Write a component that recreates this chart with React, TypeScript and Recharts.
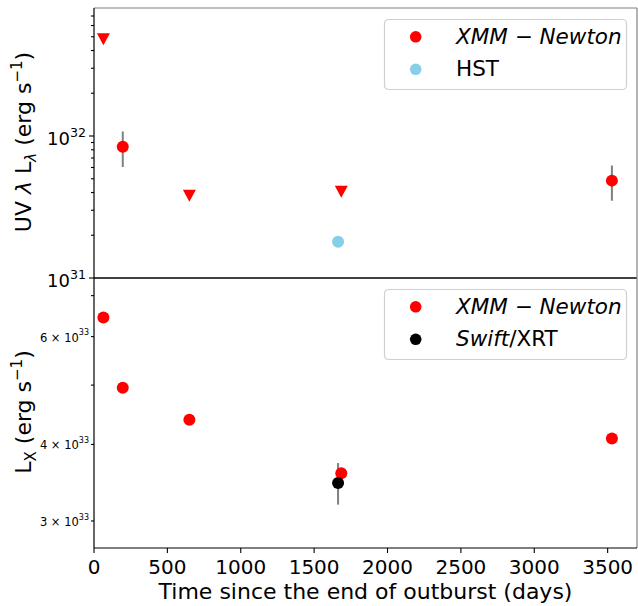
import React from 'react';
import { ScatterChart, Scatter, XAxis, YAxis, ErrorBar, ReferenceLine, Label } from 'recharts';

const FONT = '"DejaVu Sans", sans-serif';

// Top panel: UV luminosity vs days since end of outburst
const uvXmmDays = [196, 3529];
const uvXmmLum = [8.4e31, 4.85e31];
const uvXmmErr = [2.35e31, 1.35e31];
const uvLimitDays = [64, 650, 1685];
const uvLimitLum = [4.8e32, 3.8e31, 4.05e31];
const hstDays = [1663];
const hstLum = [1.8e31];

// Bottom panel: X-ray luminosity
const lxXmmDays = [64, 196, 650, 1685, 3529];
const lxXmmLum = [6.45e33, 4.95e33, 4.39e33, 3.59e33, 4.09e33];
const swiftDays = [1663];
const swiftLum = [3.46e33];
const swiftErr = [0.27e33];

const dayTicks = [0, 500, 1000, 1500, 2000, 2500, 3000, 3500];
const uvMajor = [1e31, 1e32];
const uvTicks = [1e31, 2e31, 3e31, 4e31, 5e31, 6e31, 7e31, 8e31, 9e31, 1e32, 2e32, 3e32, 4e32, 5e32, 6e32, 7e32];
const lxLabeled = [3e33, 4e33, 6e33];
const lxTicks = [3e33, 4e33, 5e33, 6e33, 7e33];

const X_MAX = 3700;
const UV_DOMAIN = [1e31, 7.97e32];
const LX_DOMAIN = [2.71e33, 7.48e33];

const toPoints = (days: number[], lum: number[], err?: number[]) =>
  days.map((d, i) => ({ day: d, lum: lum[i], err: err ? err[i] : 0 }));

const uvXmm = toPoints(uvXmmDays, uvXmmLum, uvXmmErr);
const uvLimits = toPoints(uvLimitDays, uvLimitLum);
const hst = toPoints(hstDays, hstLum);
const lxXmm = toPoints(lxXmmDays, lxXmmLum);
const swift = toPoints(swiftDays, swiftLum, swiftErr);

const dot = (color: string) => (p: any) => <circle cx={p.cx} cy={p.cy} r={6} fill={color} />;
const downTriangle = (p: any) => (
  <polygon
    points={`${p.cx - 6.5},${p.cy - 6} ${p.cx + 6.5},${p.cy - 6} ${p.cx},${p.cy + 6}`}
    fill="#ff0000"
  />
);
const nothing = () => <g />;

const UvTick = (props: any) => {
  const { x, y, payload } = props;
  const major = uvMajor.includes(payload.value);
  return (
    <g>
      <line x1={x - (major ? 5 : 3)} x2={x} y1={y} y2={y} stroke="#000" strokeWidth={1.1} />
      {major && (
        <text x={x - 8} y={y + 9} textAnchor="end" fontSize={18} fontFamily={FONT} fill="#000">
          10<tspan dy={-8.3} fontSize={12.6}>{Math.round(Math.log10(payload.value))}</tspan>
        </text>
      )}
    </g>
  );
};

const LxTick = (props: any) => {
  const { x, y, payload } = props;
  const labeled = lxLabeled.includes(payload.value);
  return (
    <g>
      <line x1={x - 3} x2={x} y1={y} y2={y} stroke="#000" strokeWidth={1.1} />
      {labeled && (
        <text x={x - 5} y={y + 5} textAnchor="end" fontSize={11.5} fontFamily={FONT} fill="#000">
          {Math.round(payload.value / 1e33)} × 10<tspan dy={-6.4} fontSize={8}>33</tspan>
        </text>
      )}
    </g>
  );
};

const DayTick = (props: any) => {
  const { x, y, payload } = props;
  return (
    <g>
      <line x1={x} x2={x} y1={y} y2={y + 5} stroke="#000" strokeWidth={1.1} />
      <text x={x} y={y + 26} textAnchor="middle" fontSize={20} fontFamily={FONT} fill="#000">
        {payload.value}
      </text>
    </g>
  );
};

const UvLabel = (props: any) => {
  const vb = props.viewBox;
  const x = vb.x + 31;
  const y = vb.y + vb.height / 2 - 1;
  return (
    <text x={x} y={y} transform={`rotate(-90, ${x}, ${y})`} textAnchor="middle" fontSize={22} fontFamily={FONT} fill="#000">
      UV <tspan fontStyle="italic">λ</tspan> L<tspan dy={5} fontSize={15} fontStyle="italic">λ</tspan>
      <tspan dy={-5}> (erg s</tspan>
      <tspan dy={-9} fontSize={15}>−1</tspan>
      <tspan dy={9}>)</tspan>
    </text>
  );
};

const LxLabel = (props: any) => {
  const vb = props.viewBox;
  const x = vb.x + 31;
  const y = vb.y + vb.height / 2 - 1;
  return (
    <text x={x} y={y} transform={`rotate(-90, ${x}, ${y})`} textAnchor="middle" fontSize={22} fontFamily={FONT} fill="#000">
      L<tspan dy={5} fontSize={15}>X</tspan>
      <tspan dy={-5}> (erg s</tspan>
      <tspan dy={-9} fontSize={15}>−1</tspan>
      <tspan dy={9}>)</tspan>
    </text>
  );
};

const DayLabel = (props: any) => {
  const vb = props.viewBox;
  return (
    <text x={vb.x + vb.width / 2} y={vb.y + 51.3} textAnchor="middle" fontSize={22} fontFamily={FONT} fill="#000">
      Time since the end of outburst (days)
    </text>
  );
};

function LegendBox({ top, items }: { top: number; items: { color: string; label: React.ReactNode }[] }) {
  return (
    <svg style={{ position: 'absolute', left: 383, top: top }} width={246} height={74}>
      <rect x={1.5} y={1.5} width={242} height={70} rx={4} fill="#fff" fillOpacity={0.8} stroke="#d0d0d0" strokeWidth={1.2} />
      {items.map((it, i) => (
        <g key={i}>
          <circle cx={32.7} cy={18.8 + i * 32.5} r={5.8} fill={it.color} />
          <text x={73} y={26.4 + i * 32} fontSize={21.5} fontFamily={FONT} fill="#000">
            {it.label}
          </text>
        </g>
      ))}
    </svg>
  );
}

const xmmLabel = (
  <>
    <tspan fontStyle="italic">XMM</tspan> − <tspan fontStyle="italic">Newton</tspan>
  </>
);

export default function App() {
  return (
    <div style={{ position: 'absolute', left: 0, top: 0, width: 638, height: 606, background: '#fff', fontFamily: FONT }}>
      <div style={{ position: 'absolute', left: 0, top: 0 }}>
        <ScatterChart width={638} height={300} margin={{ top: 8, right: 1, bottom: 22, left: 0 }}>
          <XAxis type="number" dataKey="day" domain={[0, X_MAX]} allowDataOverflow hide />
          <YAxis
            type="number"
            dataKey="lum"
            scale="log"
            domain={UV_DOMAIN}
            allowDataOverflow
            ticks={uvTicks}
            interval={0}
            width={94}
            tickSize={0}
            tickMargin={0}
            tickLine={false}
            tick={<UvTick />}
            axisLine={{ stroke: '#000', strokeWidth: 1.2 }}
            label={<Label content={UvLabel} />}
          />
          <ReferenceLine y={UV_DOMAIN[1]} stroke="#808080" strokeWidth={1.2} ifOverflow="visible" />
          <ReferenceLine y={UV_DOMAIN[0]} stroke="#000" strokeWidth={1.6} ifOverflow="visible" />
          <ReferenceLine x={X_MAX} stroke="#808080" strokeWidth={1.2} ifOverflow="visible" />
          <Scatter data={uvLimits} shape={downTriangle} isAnimationActive={false} />
          <Scatter data={uvXmm} shape={dot('#ff0000')} isAnimationActive={false}>
            <ErrorBar dataKey="err" direction="y" width={0} stroke="#808080" strokeWidth={2} />
          </Scatter>
          <Scatter data={hst} shape={dot('#87ceeb')} isAnimationActive={false} />
        </ScatterChart>
      </div>
      <div style={{ position: 'absolute', left: 0, top: 278 }}>
        <ScatterChart width={638} height={328} margin={{ top: 0, right: 1, bottom: 0, left: 0 }}>
          <XAxis
            type="number"
            dataKey="day"
            domain={[0, X_MAX]}
            allowDataOverflow
            ticks={dayTicks}
            interval={0}
            height={58}
            tickSize={0}
            tickMargin={0}
            tickLine={false}
            tick={<DayTick />}
            axisLine={{ stroke: '#000', strokeWidth: 1.2 }}
            label={<Label content={DayLabel} />}
          />
          <YAxis
            type="number"
            dataKey="lum"
            scale="log"
            domain={LX_DOMAIN}
            allowDataOverflow
            ticks={lxTicks}
            interval={0}
            width={94}
            tickSize={0}
            tickMargin={0}
            tickLine={false}
            tick={<LxTick />}
            axisLine={{ stroke: '#000', strokeWidth: 1.2 }}
            label={<Label content={LxLabel} />}
          />
          <ReferenceLine x={X_MAX} stroke="#808080" strokeWidth={1.2} ifOverflow="visible" />
          <Scatter data={swift} shape={nothing} isAnimationActive={false}>
            <ErrorBar dataKey="err" direction="y" width={0} stroke="#808080" strokeWidth={2} />
          </Scatter>
          <Scatter data={lxXmm} shape={dot('#ff0000')} isAnimationActive={false} />
          <Scatter data={swift} shape={dot('#000000')} isAnimationActive={false} />
        </ScatterChart>
      </div>
      <LegendBox
        top={18}
        items={[
          { color: '#ff0000', label: xmmLabel },
          { color: '#87ceeb', label: 'HST' },
        ]}
      />
      <LegendBox
        top={288}
        items={[
          { color: '#ff0000', label: xmmLabel },
          {
            color: '#000000',
            label: (
              <>
                <tspan fontStyle="italic">Swift</tspan>/XRT
              </>
            ),
          },
        ]}
      />
    </div>
  );
}
